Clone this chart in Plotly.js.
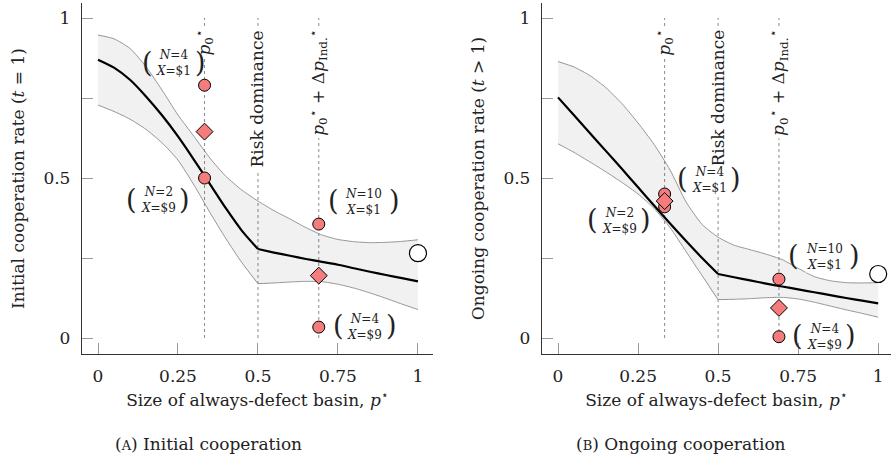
<!DOCTYPE html>
<html>
<head>
<meta charset="utf-8">
<script src="https://cdn.plot.ly/plotly-3.0.1.min.js"></script>
</head>
<body style="margin:0">
<div id="chart" style="width:891px;height:460px"></div>
<script>
// ---- data ----
var curveX = [0,0.05,0.1,0.15,0.2,0.25,0.3,0.35,0.4,0.45,0.5,0.55,0.6,0.65,0.7,0.75,0.8,0.85,0.9,0.95,1];

// (A) Initial cooperation
var initFit   = [0.870,0.845,0.807,0.755,0.696,0.630,0.557,0.481,0.405,0.335,0.278,0.267,0.257,0.247,0.238,0.229,0.218,0.207,0.197,0.187,0.177];
var initUpper = [0.947,0.935,0.905,0.848,0.775,0.697,0.630,0.562,0.505,0.462,0.428,0.398,0.372,0.345,0.322,0.308,0.301,0.298,0.299,0.302,0.307];
var initLower = [0.728,0.708,0.684,0.652,0.610,0.556,0.478,0.392,0.310,0.235,0.170,0.172,0.175,0.177,0.176,0.168,0.156,0.141,0.124,0.106,0.089];
var initCircX = [0.333,0.333,0.69,0.69];
var initCircY = [0.790,0.500,0.356,0.034];
var initDiamX = [0.333,0.69];
var initDiamY = [0.645,0.195];
var initOpenX = [1];
var initOpenY = [0.265];

// (B) Ongoing cooperation
var ongFit   = [0.752,0.696,0.640,0.584,0.528,0.471,0.414,0.358,0.303,0.250,0.200,0.190,0.180,0.170,0.161,0.152,0.143,0.134,0.125,0.117,0.108];
var ongUpper = [0.864,0.847,0.820,0.782,0.732,0.672,0.605,0.525,0.425,0.355,0.315,0.290,0.276,0.262,0.245,0.218,0.192,0.179,0.173,0.172,0.173];
var ongLower = [0.607,0.580,0.550,0.519,0.486,0.450,0.405,0.345,0.270,0.195,0.120,0.121,0.123,0.126,0.127,0.122,0.112,0.100,0.088,0.077,0.065];
var ongCircX = [0.333,0.333,0.69,0.69];
var ongCircY = [0.450,0.410,0.184,0.004];
var ongDiamX = [0.333,0.69];
var ongDiamY = [0.428,0.094];
var ongOpenX = [1];
var ongOpenY = [0.200];

// reference lines and their labels
var refX = [0.333, 0.5, 0.69];
var refLabels = ['<i>p</i><sub>0</sub><sup>⋆</sup>', 'Risk dominance', '<i>p</i><sub>0</sub><sup>⋆</sup> + Δ<i>p</i><sub>Ind.</sub><sup>⋆</sup>'];

// treatment labels
var treatLabels = ['<i>N</i>=4<br><i>X</i>=$1', '<i>N</i>=2<br><i>X</i>=$9', '<i>N</i>=10<br><i>X</i>=$1', '<i>N</i>=4<br><i>X</i>=$9'];
var initLabX = [0.236, 0.189, 0.831, 0.834];
var initLabY = [0.858, 0.431, 0.426, 0.035];
var ongLabX  = [0.472, 0.191, 0.831, 0.831];
var ongLabY  = [0.494, 0.366, 0.254, 0.004];

var xTickVals = [0,0.25,0.5,0.75,1];
var xTickText = ['0','0.25','0.5','0.75','1'];
var yTickVals = [0,0.25,0.5,0.75,1];
var yTickText = ['0','','0.5','','1'];

var captions = ['(<span style="font-size:13px">A</span>) Initial cooperation', '(<span style="font-size:13px">B</span>) Ongoing cooperation'];
var yTitles = ['Initial cooperation rate (<i>t</i> = 1)', 'Ongoing cooperation rate (<i>t</i> > 1)'];
var xTitle = 'Size of always-defect basin, <i>p</i><sup>⋆</sup>';

// ---- build ----
var FONT = 'DejaVu Serif';
var markerFill = '#f47c7c';
var TXT = '#222';
var KINK = 10; // index of p* = 0.5 where the fitted curve changes regime
var traces = [];
function seg(arr, a, b) { return arr.slice(a, b + 1); }
function panel(xa, ya, fit, up, lo, cx, cy, dx, dy, ox, oy) {
  var edge = {color: '#8a8a8a', width: 0.9, shape: 'spline', smoothing: 0.6};
  traces.push({x: curveX, y: up, xaxis: xa, yaxis: ya, mode: 'lines', line: edge, hoverinfo: 'skip', showlegend: false});
  traces.push({x: curveX, y: lo, xaxis: xa, yaxis: ya, mode: 'lines', fill: 'tonexty', fillcolor: 'rgba(0,0,0,0.055)', line: {color: 'rgba(0,0,0,0)', width: 0, shape: 'spline', smoothing: 0.6}, hoverinfo: 'skip', showlegend: false});
  traces.push({x: seg(curveX, 0, KINK), y: seg(lo, 0, KINK), xaxis: xa, yaxis: ya, mode: 'lines', line: edge, hoverinfo: 'skip', showlegend: false});
  traces.push({x: seg(curveX, KINK, 20), y: seg(lo, KINK, 20), xaxis: xa, yaxis: ya, mode: 'lines', line: edge, hoverinfo: 'skip', showlegend: false});
  traces.push({x: seg(curveX, 0, KINK), y: seg(fit, 0, KINK), xaxis: xa, yaxis: ya, mode: 'lines', line: {color: '#000', width: 2.2, shape: 'spline', smoothing: 0.6}, showlegend: false});
  traces.push({x: seg(curveX, KINK, 20), y: seg(fit, KINK, 20), xaxis: xa, yaxis: ya, mode: 'lines', line: {color: '#000', width: 2.2, shape: 'spline', smoothing: 0.6}, showlegend: false});
  traces.push({x: cx, y: cy, xaxis: xa, yaxis: ya, mode: 'markers', marker: {symbol: 'circle', size: 12, color: markerFill, line: {color: '#000', width: 1}}, showlegend: false});
  traces.push({x: dx, y: dy, xaxis: xa, yaxis: ya, mode: 'markers', marker: {symbol: 'diamond', size: 13, color: markerFill, line: {color: '#000', width: 1}}, showlegend: false});
  traces.push({x: ox, y: oy, xaxis: xa, yaxis: ya, mode: 'markers', marker: {symbol: 'circle', size: 17, color: '#fff', line: {color: '#000', width: 1.2}}, showlegend: false});
}
panel('x', 'y', initFit, initUpper, initLower, initCircX, initCircY, initDiamX, initDiamY, initOpenX, initOpenY);
panel('x2', 'y2', ongFit, ongUpper, ongLower, ongCircX, ongCircY, ongDiamX, ongDiamY, ongOpenX, ongOpenY);

var shapes = [];
var annotations = [];
[['x','y'],['x2','y2']].forEach(function (ax, p) {
  refX.forEach(function (rx, i) {
    shapes.push({type: 'line', xref: ax[0], yref: ax[1], x0: rx, x1: rx, y0: 0, y1: 1, layer: 'below', line: {color: '#8a8a8a', width: 1, dash: 'dot'}});
    annotations.push({xref: ax[0], yref: ax[1], x: rx, y: 0.972, xanchor: 'center', yanchor: 'top', text: refLabels[i], showarrow: false, textangle: -90, bgcolor: '#fff', borderpad: 2, font: {family: FONT, size: 17, color: TXT}});
  });
  var lx = p === 0 ? initLabX : ongLabX, ly = p === 0 ? initLabY : ongLabY;
  treatLabels.forEach(function (t, i) {
    var w = t.indexOf('10') > 0 ? 23 : 19;
    annotations.push({xref: ax[0], yref: ax[1], x: lx[i], y: ly[i], xanchor: 'center', yanchor: 'middle', text: t, showarrow: false, bgcolor: '#fff', borderpad: 0, font: {family: FONT, size: 12, color: TXT}});
    annotations.push({xref: ax[0], yref: ax[1], x: lx[i], y: ly[i], xanchor: 'right', yanchor: 'middle', xshift: -w, yshift: 1, text: '(', showarrow: false, font: {family: FONT, size: 27, color: TXT}});
    annotations.push({xref: ax[0], yref: ax[1], x: lx[i], y: ly[i], xanchor: 'left', yanchor: 'middle', xshift: w, yshift: 1, text: ')', showarrow: false, font: {family: FONT, size: 27, color: TXT}});
  });
});
annotations.push({xref: 'paper', yref: 'paper', x: 0.234, y: 0.034, xanchor: 'center', yanchor: 'middle', text: captions[0], showarrow: false, font: {family: FONT, size: 17, color: TXT}});
annotations.push({xref: 'paper', yref: 'paper', x: 0.764, y: 0.034, xanchor: 'center', yanchor: 'middle', text: captions[1], showarrow: false, font: {family: FONT, size: 17, color: TXT}});

function xaxis(domain, range) {
  return {domain: domain, range: range, showline: true, linecolor: '#333', linewidth: 1.3, mirror: false,
    ticks: 'inside', ticklen: 11, tickcolor: '#999', tickwidth: 1, tickvals: xTickVals, ticktext: xTickText,
    showgrid: false, zeroline: false, ticklabelstandoff: 6, tickfont: {family: FONT, size: 17, color: TXT},
    title: {text: xTitle, standoff: 9, font: {family: FONT, size: 17, color: TXT}}};
}
function yaxis(domain, anchor, title) {
  return {domain: domain, range: [-0.05, 1.047], anchor: anchor, showline: true, linecolor: '#333', linewidth: 1.3, mirror: false,
    ticks: 'inside', ticklen: 11, tickcolor: '#999', tickwidth: 1, tickvals: yTickVals, ticktext: yTickText,
    showgrid: false, zeroline: false, ticklabelstandoff: 7, tickfont: {family: FONT, size: 17, color: TXT},
    title: {text: title, standoff: 14, font: {family: FONT, size: 17, color: TXT}}};
}
var yd = [(460 - 354) / 460, (460 - 3) / 460];
var layout = {
  width: 891, height: 460, margin: {l: 0, r: 0, t: 0, b: 0},
  paper_bgcolor: '#fff', plot_bgcolor: 'rgba(0,0,0,0)', showlegend: false,
  xaxis: Object.assign(xaxis([82 / 891, 433 / 891], [-0.05, 1.047]), {anchor: 'y'}),
  yaxis: yaxis(yd, 'x', yTitles[0]),
  xaxis2: Object.assign(xaxis([542 / 891, 1], [-0.05, 1.04]), {anchor: 'y2'}),
  yaxis2: yaxis(yd, 'x2', yTitles[1]),
  shapes: shapes, annotations: annotations
};
Plotly.newPlot('chart', traces, layout, {displayModeBar: false});
</script>
</body>
</html>
